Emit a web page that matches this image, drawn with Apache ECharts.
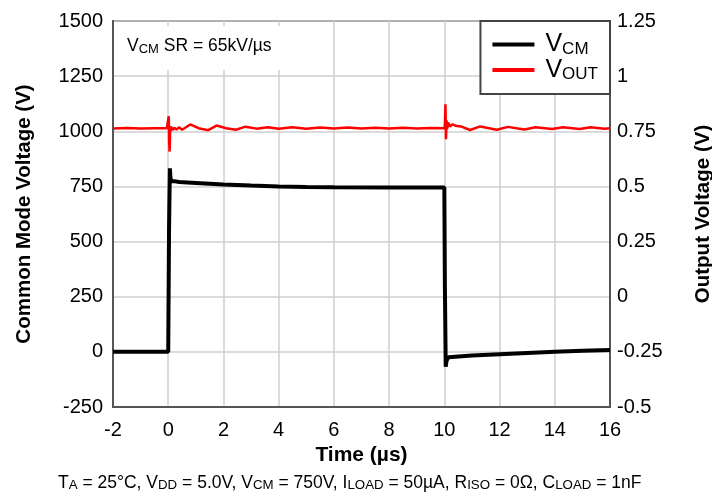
<!DOCTYPE html>
<html><head><meta charset="utf-8">
<script src="https://cdn.jsdelivr.net/npm/echarts@6/dist/echarts.min.js"></script>
<style>html,body{margin:0;padding:0;background:#fff}#c{width:712px;height:497px}</style>
</head><body><div id="c"></div>
<script>
// Common mode voltage (V) vs time (µs)
const vcmTime  = [-2, -1, 0, 0.03, 0.06, 0.08, 0.1, 0.2, 0.4, 1, 2, 3, 4, 5, 6, 8, 10, 10.02, 10.05, 10.08, 10.15, 11, 12, 13, 14, 15, 16];
const vcmValue = [0, 0, 0, 560, 832, 790, 772, 774, 770, 766, 759, 754, 750, 747, 746, 745, 745, 300, -67, -40, -24, -17, -11, -5, 0, 5, 8];
// Output voltage (V) vs time (µs)
const voutTime  = [-2, -1.5, -1, -0.5, -0.05, 0, 0.02, 0.035, 0.05, 0.07, 0.1, 0.15, 0.22, 0.3, 0.4, 0.5, 0.8, 1.1, 1.45, 1.75, 2.1, 2.45, 2.8, 3.2, 3.6, 4.0, 4.5, 5, 5.5, 6, 6.5, 7, 7.5, 8, 8.5, 9, 9.5, 10, 10.02, 10.04, 10.06, 10.08, 10.1, 10.14, 10.2, 10.3, 10.4, 10.6, 10.93, 11.3, 11.9, 12.3, 12.9, 13.3, 13.9, 14.3, 14.9, 15.3, 15.8, 16];
const voutValue = [0.763, 0.765, 0.763, 0.764, 0.764, 0.765, 0.818, 0.70, 0.658, 0.745, 0.772, 0.755, 0.766, 0.758, 0.768, 0.757, 0.781, 0.764, 0.755, 0.776, 0.764, 0.757, 0.771, 0.762, 0.768, 0.761, 0.768, 0.762, 0.767, 0.763, 0.767, 0.763, 0.766, 0.763, 0.766, 0.763, 0.765, 0.764, 0.78, 0.872, 0.714, 0.80, 0.76, 0.79, 0.772, 0.782, 0.775, 0.772, 0.756, 0.772, 0.757, 0.770, 0.758, 0.768, 0.760, 0.768, 0.760, 0.768, 0.761, 0.764];
const xTicks = {min: -2, max: 16, interval: 2};
const leftTicks = {min: -250, max: 1500, interval: 250};
const rightTicks = {min: -0.5, max: 1.25, interval: 0.25};
const seriesNames = ['VCM', 'VOUT'];

const FONT = 'Liberation Sans, Arial, sans-serif';
const chart = echarts.init(document.getElementById('c'));
const pair = (xs, ys) => xs.map((x, i) => [x, ys[i]]);
const plain = v => String(v);

const sub = {fontFamily: FONT, color: '#000'};
chart.setOption({
  animation: false,
  backgroundColor: '#fff',
  grid: {left: 113, right: 102, top: 21, bottom: 90, show: true, borderColor: '#555', borderWidth: 2, containLabel: false, outerBoundsMode: 'none'},
  xAxis: {
    type: 'value', min: xTicks.min, max: xTicks.max, interval: xTicks.interval,
    axisLine: {show: true, onZero: false, lineStyle: {color: '#555', width: 2}}, axisTick: {show: false},
    axisLabel: {color: '#000', fontSize: 20, fontFamily: FONT, margin: 13, formatter: plain},
    splitLine: {show: true, lineStyle: {color: '#cfcfcf', width: 1.5}},
    name: 'Time (µs)', nameLocation: 'middle', nameGap: 36,
    nameTextStyle: {color: '#000', fontSize: 21, fontWeight: 'bold', fontFamily: FONT}
  },
  yAxis: [{
    type: 'value', min: leftTicks.min, max: leftTicks.max, interval: leftTicks.interval,
    axisLine: {show: true, onZero: false, lineStyle: {color: '#555', width: 2}}, axisTick: {show: false},
    axisLabel: {color: '#000', fontSize: 20, fontFamily: FONT, margin: 10, formatter: plain},
    splitLine: {show: true, lineStyle: {color: '#cfcfcf', width: 1.5}},
    name: 'Common Mode Voltage (V)', nameLocation: 'middle', nameGap: 78, nameRotate: 90,
    nameTextStyle: {color: '#000', fontSize: 20.5, fontWeight: 'bold', fontFamily: FONT}
  }, {
    type: 'value', position: 'right', min: rightTicks.min, max: rightTicks.max, interval: rightTicks.interval,
    axisLine: {show: true, onZero: false, lineStyle: {color: '#555', width: 2}}, axisTick: {show: false},
    axisLabel: {color: '#000', fontSize: 20, fontFamily: FONT, margin: 7, formatter: plain},
    splitLine: {show: false},
    name: 'Output Voltage (V)', nameLocation: 'middle', nameGap: 83, nameRotate: 90,
    nameTextStyle: {color: '#000', fontSize: 20.5, fontWeight: 'bold', fontFamily: FONT}
  }],
  legend: {
    data: seriesNames, orient: 'vertical', right: 102, top: 21,
    backgroundColor: '#fff', borderColor: '#444', borderWidth: 2,
    padding: [11, 12, 11, 12], itemGap: 0, itemWidth: 42, itemHeight: 4, icon: 'rect',
    formatter: n => n === 'VCM' ? '{m|V}{s|CM}' : '{m|V}{s|OUT}',
    textStyle: {
      fontFamily: FONT,
      rich: {
        m: Object.assign({}, sub, {fontSize: 25, lineHeight: 26, padding: [0, 0, 0, 6]}),
        s: Object.assign({}, sub, {fontSize: 17, lineHeight: 18, verticalAlign: 'bottom'})
      }
    }
  },
  graphic: [
    {type: 'rect', left: 122, top: 26, shape: {width: 166, height: 44}, style: {fill: '#fff'}, z: 5},
    {type: 'text', left: 127, top: 37, z: 6, style: {
      text: '{m|V}{s|CM}{m| SR = 65kV/µs}',
      rich: {
        m: {fontSize: 17.5, fontFamily: FONT, fill: '#000', lineHeight: 20},
        s: {fontSize: 13, fontFamily: FONT, fill: '#000', lineHeight: 14, verticalAlign: 'bottom'}
      }
    }},
    {type: 'text', left: 58, top: 474, z: 6, style: {
      text: '{m|T}{s|A}{m| = 25°C, V}{s|DD}{m| = 5.0V, V}{s|CM}{m| = 750V, I}{s|LOAD}{m| = 50µA, R}{s|ISO}{m| = 0Ω, C}{s|LOAD}{m| = 1nF}',
      rich: {
        m: {fontSize: 17.5, fontFamily: FONT, fill: '#000', lineHeight: 18},
        s: {fontSize: 13.3, fontFamily: FONT, fill: '#000', lineHeight: 13, verticalAlign: 'bottom'}
      }
    }}
  ],
  series: [{
    name: 'VCM', type: 'line', yAxisIndex: 0, data: pair(vcmTime, vcmValue),
    showSymbol: false, symbol: 'none', color: '#000', lineStyle: {color: '#000', width: 4}, z: 3
  }, {
    name: 'VOUT', type: 'line', yAxisIndex: 1, data: pair(voutTime, voutValue),
    showSymbol: false, symbol: 'none', color: '#f00', lineStyle: {color: '#f00', width: 2.5}, z: 4
  }]
});
</script></body></html>
